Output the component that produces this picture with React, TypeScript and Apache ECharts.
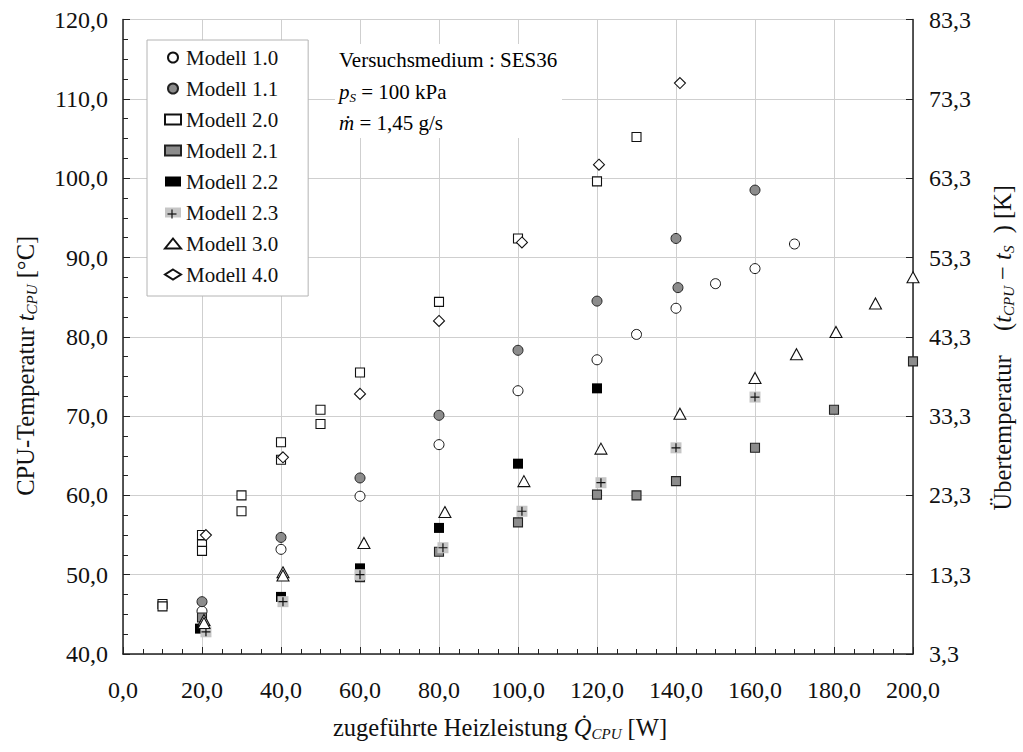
import React, { useEffect, useRef } from 'react';
import * as echarts from 'echarts';

const FONT = 'Liberation Serif';

// Heizleistung [W], CPU-Temperatur [°C]
const modell10 = [[20, 45.4], [40, 53.2], [60, 59.9], [80, 66.4], [100, 73.2], [120, 77.1], [130, 80.3], [140, 83.6], [150, 86.7], [160, 88.6], [170, 91.7]];
const modell11 = [[20, 46.6], [40, 54.7], [60, 62.2], [80, 70.1], [100, 78.3], [120, 84.5], [140, 92.4], [140.5, 86.2], [160, 98.5]];
const modell20 = [[10, 46.3], [10, 46.0], [20, 55.0], [20, 53.8], [20, 53.0], [30, 60.0], [30, 58.0], [40, 66.7], [40, 64.5], [50, 70.8], [50, 69.0], [60, 75.5], [80, 84.4], [100, 92.4], [120, 99.6], [130, 105.2]];
const modell21 = [[20, 44.6], [60, 49.7], [80, 52.9], [100, 56.6], [120, 60.1], [130, 60.0], [140, 61.8], [160, 66.0], [180, 70.8], [200, 76.9]];
const modell22 = [[19.5, 43.2], [40, 47.2], [60, 50.8], [80, 55.9], [100, 64.0], [120, 73.5]];
const modell23 = [[21, 42.8], [40.5, 46.6], [60, 50.0], [81, 53.4], [101, 58.0], [121, 61.6], [140, 66.0], [160, 72.4]];
const modell30 = [[20.5, 44.3], [20.5, 43.9], [40.5, 50.3], [40.5, 49.9], [61, 54.0], [81.5, 57.9], [101.5, 61.8], [121, 65.9], [141, 70.3], [160, 74.8], [170.5, 77.8], [180.5, 80.6], [190.5, 84.2], [200, 87.5]];
const modell40 = [[21, 55.0], [40.5, 64.8], [60, 72.8], [80, 82.0], [101, 91.9], [120.5, 101.7], [141, 112.0]];

const legendNames = ['Modell 1.0', 'Modell 1.1', 'Modell 2.0', 'Modell 2.1', 'Modell 2.2', 'Modell 2.3', 'Modell 3.0', 'Modell 4.0'];

// ambient/inlet temperature offset for the secondary axis (t_S)
const tS = 36.7;

const fmt = (v: number) => v.toFixed(1).replace('.', ',');

const richBase = {
  n: { fontSize: 21, fontFamily: FONT, color: '#111' },
  i: { fontSize: 21, fontFamily: FONT, fontStyle: 'italic', color: '#111' },
  s: { fontSize: 13, fontFamily: FONT, fontStyle: 'italic', color: '#111', padding: [10, 0, 0, 0] },
};
const richName = {
  n: { fontSize: 24.5, fontFamily: FONT, color: '#111' },
  i: { fontSize: 24.5, fontFamily: FONT, fontStyle: 'italic', color: '#111' },
  s: { fontSize: 15, fontFamily: FONT, fontStyle: 'italic', color: '#111', padding: [12, 0, 0, 0] },
};
const richTick = { t: { fontSize: 24, fontFamily: FONT, color: '#111' } };

export default function App() {
  const ref = useRef<HTMLDivElement>(null);
  useEffect(() => {
    if (!ref.current) return;
    const chart = echarts.init(ref.current, undefined, { renderer: 'svg' });
    const axisLine = { show: true, lineStyle: { color: '#222', width: 1.5 } };
    const labelStyle = { fontFamily: FONT, fontSize: 24, color: '#111', rich: richTick };
    const option: any = {
      animation: false,
      backgroundColor: '#fff',
      textStyle: { fontFamily: FONT },
      grid: { left: 123, right: 110, top: 19.6, bottom: 98, containLabel: false, outerBoundsMode: 'none' },
      legend: {
        data: legendNames,
        orient: 'vertical',
        left: 147,
        top: 40,
        backgroundColor: '#fff',
        borderColor: '#b4b4b4',
        borderWidth: 1,
        padding: [7, 30, 11, 17],
        itemGap: 10,
        itemWidth: 16,
        itemHeight: 10,
        selectedMode: false,
        formatter: (name: string) => `{n|${name}}`,
        textStyle: { fontFamily: FONT, fontSize: 21, color: '#111', rich: richBase },
      },
      xAxis: {
        type: 'value',
        min: 0,
        max: 200,
        interval: 20,
        name: '{n|zugeführte Heizleistung }{i|Q̇}{s|CPU}{n| [W]}',
        nameLocation: 'middle',
        nameGap: 60,
        nameTextStyle: { rich: richName, padding: [0, 36, 0, 0] },
        axisLine,
        axisTick: { show: true, inside: true, length: 7, lineStyle: { color: '#222' } },
        minorTick: { show: true, splitNumber: 4, length: 5, lineStyle: { color: '#222' } },
        axisLabel: { ...labelStyle, margin: 24, formatter: (v: number) => `{t|${fmt(v)}}` },
        splitLine: { show: true, lineStyle: { color: '#cfcfcf', width: 1 } },
      },
      yAxis: [
        {
          type: 'value',
          position: 'left',
          min: 40,
          max: 120,
          interval: 10,
          name: '{n|CPU-Temperatur }{i|t}{s|CPU}{n| [°C]}',
          nameLocation: 'middle',
          nameRotate: 90,
          nameGap: 84,
          nameTextStyle: { rich: richName, padding: [0, 58, 0, 0] },
          axisLine,
          axisTick: { show: true, inside: true, length: 7, lineStyle: { color: '#222' } },
          minorTick: { show: true, splitNumber: 4, length: 5, lineStyle: { color: '#222' } },
          axisLabel: { ...labelStyle, margin: 15, formatter: (v: number) => `{t|${fmt(v)}}` },
          splitLine: { show: true, lineStyle: { color: '#cfcfcf', width: 1 } },
        },
        {
          type: 'value',
          position: 'right',
          min: 40,
          max: 120,
          interval: 10,
          name: '{n|Übertemperatur    (}{i|t}{s|CPU}{n| − }{i|t}{s|S}{n|  ) [K]}',
          nameLocation: 'middle',
          nameRotate: 90,
          nameGap: 76,
          nameTextStyle: { rich: richName, padding: [0, 22, 0, 0] },
          axisLine,
          axisTick: { show: true, inside: true, length: 7, lineStyle: { color: '#222' } },
          axisLabel: { ...labelStyle, margin: 16, formatter: (v: number) => `{t|${fmt(v - tS)}}` },
          splitLine: { show: false },
        },
      ],
      graphic: [
        {
          type: 'group',
          z: 1,
          children: [
            { type: 'rect', shape: { x: 335, y: 44, width: 227, height: 94 }, style: { fill: '#fff' }, z: 1 },
            {
              type: 'text', x: 339, y: 60, z: 2,
              style: { text: '{n|Versuchsmedium : SES36}', rich: richBase, verticalAlign: 'middle' },
            },
            {
              type: 'text', x: 339, y: 92, z: 2,
              style: { text: '{i|p}{s|S}{n| = 100 kPa}', rich: richBase, verticalAlign: 'middle' },
            },
            {
              type: 'text', x: 339, y: 123, z: 2,
              style: { text: '{i|ṁ}{n| = 1,45 g/s}', rich: richBase, verticalAlign: 'middle' },
            },
          ],
        },
        {
          type: 'group',
          z: 10,
          children: [
            { type: 'line', shape: { x1: 167.5, y1: 214, x2: 176.5, y2: 214 }, style: { stroke: '#111', lineWidth: 1.2 }, z: 10 },
            { type: 'line', shape: { x1: 172, y1: 209.5, x2: 172, y2: 218.5 }, style: { stroke: '#111', lineWidth: 1.2 }, z: 10 },
          ],
        },
      ],
      series: [
        {
          name: 'Modell 1.0', type: 'scatter', data: modell10, symbol: 'circle', symbolSize: 10,
          itemStyle: { color: '#fff', borderColor: '#111', borderWidth: 1, opacity: 1 },
        },
        {
          name: 'Modell 1.1', type: 'scatter', data: modell11, symbol: 'circle', symbolSize: 10,
          itemStyle: { color: '#8c8c8c', borderColor: '#222', borderWidth: 1, opacity: 1 },
        },
        {
          name: 'Modell 2.0', type: 'scatter', data: modell20, symbol: 'rect', symbolSize: 9,
          itemStyle: { color: '#fff', borderColor: '#111', borderWidth: 1.1, opacity: 1 },
        },
        {
          name: 'Modell 2.1', type: 'scatter', data: modell21, symbol: 'rect', symbolSize: 9,
          itemStyle: { color: '#8c8c8c', borderColor: '#222', borderWidth: 1.1, opacity: 1 },
        },
        {
          name: 'Modell 2.2', type: 'scatter', data: modell22, symbol: 'rect', symbolSize: 10,
          itemStyle: { color: '#000', opacity: 1 },
        },
        {
          name: 'Modell 2.3', type: 'scatter', data: modell23, symbol: 'rect', symbolSize: 11,
          itemStyle: { color: '#c6c6c6', opacity: 1 },
        },
        {
          name: 'Modell 2.3', type: 'scatter', data: modell23, symbol: 'path://M0,5H10M5,0V10', symbolSize: 9,
          itemStyle: { color: 'none', borderColor: '#111', borderWidth: 1.2, opacity: 1 },
        },
        {
          name: 'Modell 3.0', type: 'scatter', data: modell30, symbol: 'triangle', symbolSize: [12, 11],
          itemStyle: { color: '#fff', borderColor: '#111', borderWidth: 1.1, opacity: 1 },
        },
        {
          name: 'Modell 4.0', type: 'scatter', data: modell40, symbol: 'diamond', symbolSize: [11, 11],
          itemStyle: { color: '#fff', borderColor: '#111', borderWidth: 1.1, opacity: 1 },
        },
      ],
    };
    chart.setOption(option);
    return () => chart.dispose();
  }, []);
  return <div ref={ref} style={{ position: 'fixed', left: 0, top: 0, width: 1023, height: 752, background: '#fff' }} />;
}
